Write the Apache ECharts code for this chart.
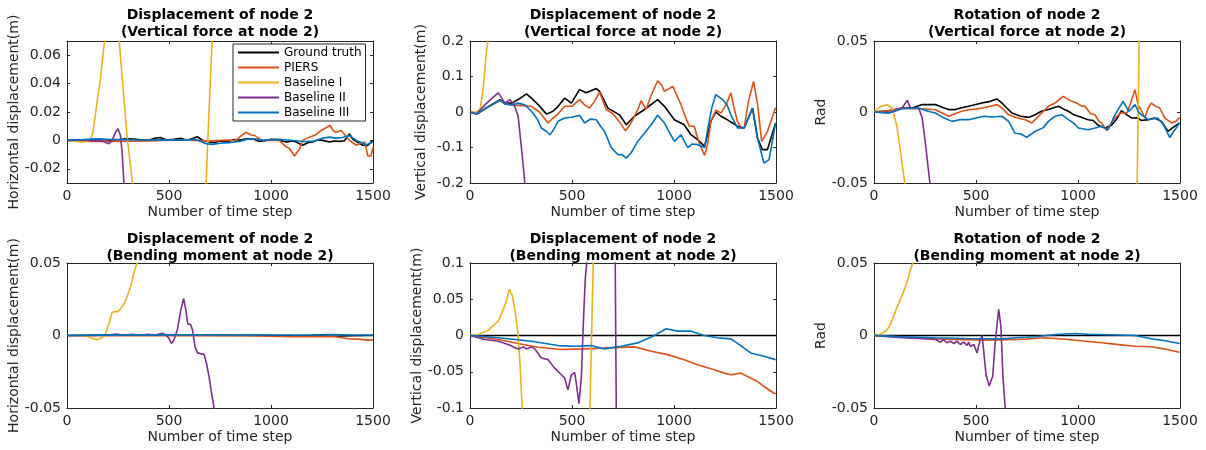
<!DOCTYPE html>
<html>
<head>
<meta charset="utf-8">
<script src="https://cdn.jsdelivr.net/npm/echarts@6/dist/echarts.min.js"></script>
<style>
  html, body { margin: 0; padding: 0; background: #fff; }
  #chart { width: 1206px; height: 450px; }
</style>
</head>
<body>
<div id="chart"></div>
<script>
// series names / colours (MATLAB default order)
const seriesNames = ["Ground truth", "PIERS", "Baseline I", "Baseline II", "Baseline III"];
const seriesColors = ["#000000", "#D95319", "#EDB120", "#7E2F8E", "#0072BD"];

const xTicks = [0, 500, 1000, 1500];

// panel 1 : horizontal displacement, vertical force
const yRange1 = [-0.03, 0.07];
const yTicks1 = [-0.02, 0, 0.02, 0.04, 0.06];
const p1Truth = [[0,0],[80,0.0004],[120,-0.0002],[162,0.0007],[210,0.0001],[250,0.0005],[290,0.0012],[326,0.001],[370,0.0002],[408,0.0004],[430,0.0015],[457,0.002],[490,0.0003],[523,0.0007],[560,0.0014],[588,0.0001],[612,0.0012],[638,0.0026],[670,-0.0004],[720,-0.0016],[750,-0.0004],[785,-0.001],[820,0.0006],[851,0.0002],[880,0.0012],[916,0.0008],[940,-0.0006],[965,-0.0004],[1000,0.0008],[1031,0.0006],[1060,-0.0006],[1080,-0.0012],[1105,-0.0002],[1123,-0.0011],[1155,-0.0034],[1180,-0.0016],[1205,-0.0011],[1230,0.0004],[1254,0],[1287,-0.0011],[1310,-0.0004],[1336,-0.0007],[1360,-0.0002],[1385,0.0046],[1400,0.001],[1418,-0.0007],[1450,-0.0034],[1474,-0.0035],[1500,0]];
const p1Piers = [[0,0],[60,-0.0005],[139,-0.0007],[250,-0.0007],[303,-0.0005],[400,-0.0004],[467,0],[560,0.0003],[631,0],[700,-0.0005],[780,0.0002],[828,0],[860,0.004],[877,0.0057],[900,0.004],[918,0.0035],[959,0],[1041,0],[1070,-0.004],[1090,-0.0057],[1115,-0.011],[1140,-0.006],[1155,0],[1188,0.0023],[1220,0.004],[1245,0.007],[1290,0.0105],[1305,0.007],[1319,0.0057],[1344,0.0069],[1385,0],[1418,-0.0034],[1440,-0.002],[1459,-0.0011],[1475,-0.011],[1490,-0.011],[1500,-0.005]];
const p1BaseI = [[0,0],[40,-0.0005],[74,-0.0012],[100,-0.0005],[113,0],[125,0.004],[138,0.017],[150,0.03],[162,0.041],[174,0.057],[184,0.07],[200,0.1],[220,0.12],[240,0.1],[256,0.07],[270,0.045],[282,0.025],[293,0.005],[307,-0.013],[321,-0.03],[340,-0.06],[450,-0.2],[600,-0.15],[682,-0.03],[696,0.02],[711,0.07],[730,0.13]];
const p1BaseII = [[0,0],[60,0.0003],[106,0],[150,-0.0003],[172,-0.0005],[190,-0.0015],[205,-0.0023],[221,0],[238,0.0057],[250,0.0082],[262,0.0035],[270,-0.008],[279,-0.03],[290,-0.06]];
const p1BaseIII = [[0,0],[70,0.0005],[139,0.0011],[200,0.0008],[303,0.0005],[400,0.0003],[467,0.0004],[560,0.0002],[631,0.0007],[660,-0.001],[680,-0.0023],[713,-0.0028],[750,-0.002],[795,-0.0016],[850,-0.0005],[893,0.0011],[930,0.001],[959,0],[1000,0.0005],[1041,0.0007],[1080,0.0003],[1123,-0.0002],[1160,-0.0008],[1205,-0.0007],[1254,0.0016],[1287,0.0023],[1320,0.0016],[1350,0.002],[1385,0.0034],[1418,0],[1450,-0.002],[1467,-0.003],[1500,-0.0011]];

// panel 2 : vertical displacement, vertical force
const yRange2 = [-0.2, 0.2];
const yTicks2 = [-0.2, -0.1, 0, 0.1, 0.2];
const p2Truth = [[0,0],[33,-0.0056],[73,0.009],[147,0.035],[171,0.025],[204,0.025],[236,0.035],[277,0.051],[301,0.039],[334,0.021],[375,-0.006],[407,0.002],[432,0.016],[464,0.039],[497,0.025],[537,0.063],[570,0.054],[619,0.066],[635,0.058],[676,0.011],[733,-0.008],[766,-0.036],[806,-0.012],[855,0.007],[920,0.035],[953,0.016],[1002,-0.022],[1050,-0.036],[1083,-0.064],[1116,-0.078],[1150,-0.097],[1181,-0.026],[1205,0],[1230,-0.012],[1262,-0.022],[1287,-0.031],[1311,-0.04],[1344,-0.045],[1385,0.011],[1409,-0.073],[1433,-0.106],[1458,-0.106],[1498,-0.031]];
const p2Piers = [[0,0],[33,-0.0056],[73,0.009],[147,0.033],[171,0.023],[204,0.02],[250,0.018],[301,0.016],[340,0],[383,-0.031],[407,-0.017],[432,-0.005],[464,0.016],[500,0.016],[537,0.035],[562,0.02],[586,0.011],[610,0.03],[635,0.056],[668,0.007],[700,-0.005],[741,-0.034],[762,-0.053],[785,-0.035],[806,-0.012],[825,0.01],[839,0.032],[863,0.007],[890,0.05],[920,0.088],[940,0.075],[953,0.058],[994,0.072],[1034,0.021],[1060,-0.02],[1075,-0.04],[1099,-0.04],[1125,-0.09],[1150,-0.122],[1165,-0.09],[1181,-0.026],[1205,0.005],[1230,-0.003],[1255,0.02],[1279,0.054],[1295,0.01],[1311,-0.026],[1330,-0.045],[1344,-0.045],[1365,0.03],[1390,0.086],[1410,0.02],[1430,-0.083],[1458,-0.055],[1498,0.013]];
const p2BaseI = [[0,0],[25,0],[40,0.002],[50,0.01],[58,0.04],[65,0.068],[73,0.12],[81,0.171],[90,0.21],[100,0.3]];
const p2BaseII = [[0,0],[33,-0.005],[73,0.02],[110,0.04],[139,0.054],[160,0.035],[171,0.025],[195,0.035],[220,0.015],[236,-0.012],[252,-0.1],[269,-0.2],[280,-0.28]];
const p2BaseIII = [[0,0],[33,-0.0056],[73,0.009],[147,0.033],[171,0.023],[204,0.02],[235,0.025],[269,0.02],[301,0.002],[330,-0.02],[350,-0.045],[375,-0.055],[391,-0.064],[410,-0.05],[432,-0.026],[464,-0.017],[500,-0.015],[537,-0.009],[562,-0.031],[590,-0.02],[619,-0.022],[640,-0.04],[659,-0.054],[692,-0.1],[725,-0.12],[745,-0.12],[766,-0.13],[790,-0.115],[822,-0.083],[855,-0.06],[888,-0.036],[920,-0.009],[953,-0.031],[980,-0.06],[1002,-0.083],[1034,-0.064],[1067,-0.1],[1090,-0.09],[1116,-0.092],[1150,-0.1],[1168,-0.04],[1185,0.011],[1205,0.049],[1238,0.035],[1260,0.02],[1279,-0.008],[1311,-0.045],[1344,-0.045],[1385,0.011],[1409,-0.073],[1441,-0.144],[1466,-0.134],[1498,-0.031]];

// panel 3 : rotation, vertical force
const yRange3 = [-0.05, 0.05];
const yTicks3 = [-0.05, 0, 0.05];
const p3Truth = [[0,0],[73,0.0009],[138,0.0028],[187,0.0028],[236,0.0052],[301,0.0052],[340,0.003],[366,0.0017],[399,0.0017],[430,0.003],[464,0.004],[529,0.0063],[570,0.0075],[603,0.0092],[627,0.0063],[650,0.003],[676,-0.0007],[720,-0.003],[757,-0.0038],[790,-0.0019],[820,0.0005],[855,0.0017],[880,0.003],[904,0.004],[930,0.002],[953,0.0005],[980,-0.002],[1002,-0.003],[1050,-0.0054],[1075,-0.006],[1099,-0.0094],[1132,-0.0113],[1164,-0.0094],[1190,-0.005],[1213,0.0009],[1240,-0.002],[1262,-0.0042],[1290,-0.004],[1311,-0.006],[1344,-0.0054],[1376,-0.0042],[1409,-0.0066],[1441,-0.0136],[1466,-0.0108],[1498,-0.0077]];
const p3Piers = [[0,0],[73,0.0009],[138,0.0028],[187,0.0023],[236,0.0023],[301,0.0016],[340,-0.001],[366,-0.003],[400,-0.001],[430,0.0005],[464,0.0016],[500,0.002],[529,0.0028],[570,0.004],[603,0.0052],[627,0.0028],[660,-0.002],[700,-0.004],[741,-0.0054],[774,-0.0077],[800,-0.004],[822,-0.0007],[855,0.004],[888,0.0063],[910,0.009],[928,0.011],[953,0.0087],[970,0.0075],[994,0.0063],[1020,0.004],[1034,0.0042],[1060,-0.001],[1083,-0.0019],[1100,-0.006],[1116,-0.0077],[1140,-0.0131],[1160,-0.0085],[1181,-0.0042],[1210,-0.0007],[1240,-0.0007],[1262,0.008],[1279,0.0157],[1295,0.005],[1311,0.0009],[1327,-0.0042],[1345,0.003],[1360,0.0063],[1380,0.004],[1400,0.003],[1425,-0.0042],[1458,-0.0077],[1480,-0.0066],[1498,-0.004]];
const p3BaseI = [[0,0],[33,0.004],[65,0.005],[90,0.0028],[114,-0.0113],[138,-0.037],[151,-0.05],[170,-0.08],[600,-0.2],[1280,-0.2],[1290,-0.05],[1300,0.05],[1310,0.2]];
const p3BaseII = [[0,0],[73,-0.0007],[138,0.0028],[163,0.0082],[179,0.0028],[220,0.0025],[236,-0.004],[252,-0.022],[274,-0.05],[285,-0.07]];
const p3BaseIII = [[0,0],[73,-0.0007],[138,0.0023],[220,0.0028],[260,0.0007],[301,-0.0007],[340,-0.004],[383,-0.0066],[420,-0.0054],[464,-0.0054],[500,-0.0042],[540,-0.003],[580,-0.0035],[627,-0.003],[660,-0.0066],[692,-0.015],[720,-0.0155],[749,-0.0178],[790,-0.0136],[830,-0.011],[855,-0.0066],[888,-0.003],[920,-0.0019],[953,-0.0054],[980,-0.008],[1002,-0.0113],[1050,-0.0125],[1083,-0.0113],[1116,-0.01],[1148,-0.0125],[1181,-0.002],[1221,0.0075],[1250,0.0005],[1279,0.0052],[1300,-0.0007],[1344,-0.0054],[1390,-0.0042],[1420,-0.009],[1450,-0.018],[1475,-0.0125],[1498,-0.0077]];

// panel 4 : horizontal displacement, bending moment
const yRange4 = [-0.05, 0.05];
const yTicks4 = [-0.05, 0, 0.05];
const p4Truth = [[0,0],[300,0.0002],[600,0.0002],[900,0.0001],[1100,-0.0002],[1250,-0.0003],[1300,-0.0005],[1350,-0.0003],[1400,-0.0002],[1500,0]];
const p4Piers = [[0,0],[300,-0.0001],[600,0],[900,-0.0002],[1000,-0.0005],[1100,-0.0009],[1200,-0.0009],[1300,-0.0007],[1340,-0.0014],[1380,-0.0023],[1430,-0.0025],[1470,-0.0032],[1500,-0.003]];
const p4BaseI = [[0,0],[90,0],[115,-0.0015],[146,-0.003],[165,-0.002],[187,0],[200,0.006],[210,0.01],[220,0.0158],[236,0.0165],[250,0.0165],[262,0.0185],[280,0.022],[293,0.026],[310,0.033],[326,0.042],[343,0.05],[360,0.058]];
const p4BaseII = [[0,0],[100,0],[200,0.0003],[240,0.001],[280,0.0002],[320,0.0008],[360,0.0002],[400,0.0009],[430,0.0002],[467,0.0015],[485,0.0005],[500,-0.002],[512,-0.0055],[524,-0.003],[541,0.004],[557,0.017],[572,0.0255],[582,0.018],[592,0.008],[606,0.0075],[615,0.004],[628,-0.008],[640,-0.012],[655,-0.0125],[672,-0.013],[685,-0.02],[697,-0.029],[709,-0.04],[721,-0.05],[730,-0.056]];
const p4BaseIII = [[0,0],[200,0.0004],[400,0.0004],[600,0.0005],[800,0.0004],[1000,0.0003],[1200,0.0004],[1300,0.0007],[1400,0.0003],[1500,0.0003]];

// panel 5 : vertical displacement, bending moment
const yRange5 = [-0.1, 0.1];
const yTicks5 = [-0.1, -0.05, 0, 0.05, 0.1];
const p5Truth = [[0,0],[1500,0]];
const p5Piers = [[0,0],[139,-0.0056],[236,-0.011],[334,-0.0162],[448,-0.0194],[562,-0.0185],[676,-0.0171],[806,-0.0157],[888,-0.0218],[969,-0.0264],[1050,-0.0333],[1116,-0.0403],[1197,-0.0472],[1246,-0.0519],[1279,-0.0542],[1327,-0.0519],[1360,-0.0565],[1409,-0.0634],[1441,-0.0704],[1490,-0.0796],[1500,-0.08]];
const p5BaseI = [[0,0],[41,0.0014],[90,0.0074],[139,0.02],[163,0.036],[179,0.048],[192,0.064],[207,0.055],[220,0.036],[233,0.008],[244,-0.033],[256,-0.1],[270,-0.15],[400,-0.3],[570,-0.25],[588,-0.1],[604,0.1],[620,0.2]];
const p5BaseII = [[0,0],[73,-0.0056],[139,-0.0079],[187,-0.0125],[236,-0.0185],[261,-0.0157],[277,-0.0185],[301,-0.0157],[318,-0.0185],[350,-0.031],[383,-0.0333],[415,-0.045],[448,-0.0542],[464,-0.0588],[480,-0.075],[497,-0.0542],[513,-0.051],[521,-0.0657],[534,-0.094],[546,-0.0565],[555,0.013],[565,0.078],[575,0.11],[600,0.2],[660,0.25],[705,0.2],[712,0.1],[717,-0.1],[725,-0.2]];
const p5BaseIII = [[0,0],[60,-0.001],[139,-0.0032],[220,-0.0055],[301,-0.0079],[432,-0.0139],[513,-0.0148],[594,-0.0139],[660,-0.0185],[741,-0.0148],[822,-0.0102],[904,0],[961,0.0093],[1018,0.006],[1083,0.006],[1148,0],[1213,-0.0032],[1279,-0.0046],[1327,-0.0139],[1376,-0.024],[1441,-0.0287],[1498,-0.0333]];

// panel 6 : rotation, bending moment
const yRange6 = [-0.05, 0.05];
const yTicks6 = [-0.05, 0, 0.05];
const p6Truth = [[0,0],[1500,0]];
const p6Piers = [[0,0],[150,-0.0012],[250,-0.002],[383,-0.0028],[550,-0.0032],[708,-0.0028],[839,-0.0016],[950,-0.0028],[1116,-0.005],[1200,-0.0063],[1279,-0.0074],[1360,-0.0078],[1420,-0.0092],[1498,-0.0115]];
const p6BaseI = [[0,0],[24,0.0007],[40,0.0015],[57,0.003],[74,0.006],[90,0.011],[106,0.017],[122,0.0225],[139,0.028],[155,0.034],[167,0.039],[179,0.0455],[192,0.051],[205,0.056]];
const p6BaseII = [[0,0],[73,-0.0009],[139,-0.0016],[220,-0.0021],[301,-0.0028],[326,-0.0046],[340,-0.0028],[357,-0.005],[374,-0.0039],[391,-0.0055],[407,-0.0039],[423,-0.0062],[440,-0.0046],[456,-0.0069],[464,-0.0046],[472,-0.0074],[490,-0.0062],[505,-0.012],[521,-0.0028],[530,0],[537,-0.0097],[549,-0.0269],[565,-0.0349],[582,-0.028],[594,-0.005],[611,0.018],[622,0.0064],[632,-0.028],[643,-0.05],[650,-0.06]];
const p6BaseIII = [[0,0],[150,-0.0009],[301,-0.0016],[450,-0.0021],[627,-0.0023],[700,-0.0016],[790,-0.0009],[888,0.0007],[985,0.0014],[1050,0.0009],[1150,0.0005],[1279,0],[1360,-0.0023],[1420,-0.0035],[1498,-0.0055]];

const titles1 = ["Displacement of node 2", "Displacement of node 2", "Rotation of node 2",
                 "Displacement of node 2", "Displacement of node 2", "Rotation of node 2"];
const titles2 = ["(Vertical force at node 2)", "(Vertical force at node 2)", "(Vertical force at node 2)",
                 "(Bending moment at node 2)", "(Bending moment at node 2)", "(Bending moment at node 2)"];
const yNames = ["Horizontal displacement(m)", "Vertical displacement(m)", "Rad",
                "Horizontal displacement(m)", "Vertical displacement(m)", "Rad"];

const panelData = [
  [p1Truth, p1Piers, p1BaseI, p1BaseII, p1BaseIII],
  [p2Truth, p2Piers, p2BaseI, p2BaseII, p2BaseIII],
  [p3Truth, p3Piers, p3BaseI, p3BaseII, p3BaseIII],
  [p4Truth, p4Piers, p4BaseI, p4BaseII, p4BaseIII],
  [p5Truth, p5Piers, p5BaseI, p5BaseII, p5BaseIII],
  [p6Truth, p6Piers, p6BaseI, p6BaseII, p6BaseIII]
];
const yRanges = [yRange1, yRange2, yRange3, yRange4, yRange5, yRange6];
const yTicks = [yTicks1, yTicks2, yTicks3, yTicks4, yTicks5, yTicks6];

// layout (px)
const colLeft = [67, 470, 874];
const plotW = 306;
const rowTop = [41, 263];
const rowH = [142, 145];

const FONT = '"DejaVu Sans", sans-serif';
const AXIS_COLOR = "#262626";
const FS = 14;

const chart = echarts.init(document.getElementById("chart"), null, { renderer: "canvas" });

const grids = [], xAxes = [], yAxes = [], series = [], graphics = [];
for (let i = 0; i < 6; i++) {
  const col = i % 3, row = Math.floor(i / 3);
  grids.push({ left: colLeft[col], top: rowTop[row], width: plotW, height: rowH[row], containLabel: false });

  const lineCfg = { show: true, onZero: false, lineStyle: { color: AXIS_COLOR, width: 1 } };
  const tickCfg = { show: true, inside: true, length: 3, lineStyle: { color: AXIS_COLOR, width: 1 } };

  // bottom x axis
  xAxes.push({
    type: "value", gridIndex: i, position: "bottom", min: 0, max: 1500, interval: 500,
    axisLine: lineCfg, axisTick: tickCfg, splitLine: { show: false },
    axisLabel: { color: AXIS_COLOR, fontSize: FS, fontFamily: FONT, margin: 6, customValues: xTicks,
                 formatter: v => String(v) },
    name: "Number of time step", nameLocation: "middle", nameGap: 22,
    nameTextStyle: { color: AXIS_COLOR, fontSize: FS, fontFamily: FONT }
  });
  // top x axis (box)
  xAxes.push({
    type: "value", gridIndex: i, position: "top", min: 0, max: 1500, interval: 500,
    axisLine: lineCfg, axisTick: tickCfg, splitLine: { show: false }, axisLabel: { show: false }
  });
  // left y axis
  yAxes.push({
    type: "value", gridIndex: i, position: "left", min: yRanges[i][0], max: yRanges[i][1],
    axisLine: lineCfg, axisTick: Object.assign({}, tickCfg, { customValues: yTicks[i] }),
    splitLine: { show: false },
    axisLabel: { color: AXIS_COLOR, fontSize: FS, fontFamily: FONT, margin: 6, customValues: yTicks[i],
                 formatter: v => String(v) },
    name: yNames[i], nameLocation: "middle", nameGap: 42, nameRotate: 90,
    nameTextStyle: { color: AXIS_COLOR, fontSize: FS, fontFamily: FONT }
  });
  // right y axis (box)
  yAxes.push({
    type: "value", gridIndex: i, position: "right", min: yRanges[i][0], max: yRanges[i][1],
    axisLine: lineCfg, axisTick: Object.assign({}, tickCfg, { customValues: yTicks[i] }),
    splitLine: { show: false }, axisLabel: { show: false }
  });

  panelData[i].forEach((d, k) => {
    series.push({
      name: seriesNames[k], type: "line", xAxisIndex: 2 * i, yAxisIndex: 2 * i,
      data: d, showSymbol: false, symbol: "none", clip: true, smooth: false,
      itemStyle: { color: seriesColors[k] },
      lineStyle: { color: seriesColors[k], width: 1.6 },
      z: 2 + k
    });
  });

  const cx = colLeft[col] + plotW / 2;
  const ty = row === 0 ? 15 : 239;
  graphics.push({
    type: "text", x: cx, y: ty,
    style: { text: titles1[i], font: "bold " + FS + "px " + FONT, fill: "#000", align: "center", verticalAlign: "middle" }
  });
  graphics.push({
    type: "text", x: cx, y: ty + 17,
    style: { text: titles2[i], font: "bold " + FS + "px " + FONT, fill: "#000", align: "center", verticalAlign: "middle" }
  });
}

const option = {
  animation: false,
  backgroundColor: "#fff",
  grid: grids,
  xAxis: xAxes,
  yAxis: yAxes,
  legend: {
    data: seriesNames, orient: "vertical", left: 233, top: 44,
    icon: "rect", itemWidth: 41, itemHeight: 2, itemGap: 0,
    padding: [1, 4, 1, 5], backgroundColor: "#fff",
    borderColor: AXIS_COLOR, borderWidth: 1, selectedMode: false,
    textStyle: { fontSize: 12, color: "#000", fontFamily: FONT, lineHeight: 15 }
  },
  graphic: graphics,
  series: series
};
chart.setOption(option);
</script>
</body>
</html>
